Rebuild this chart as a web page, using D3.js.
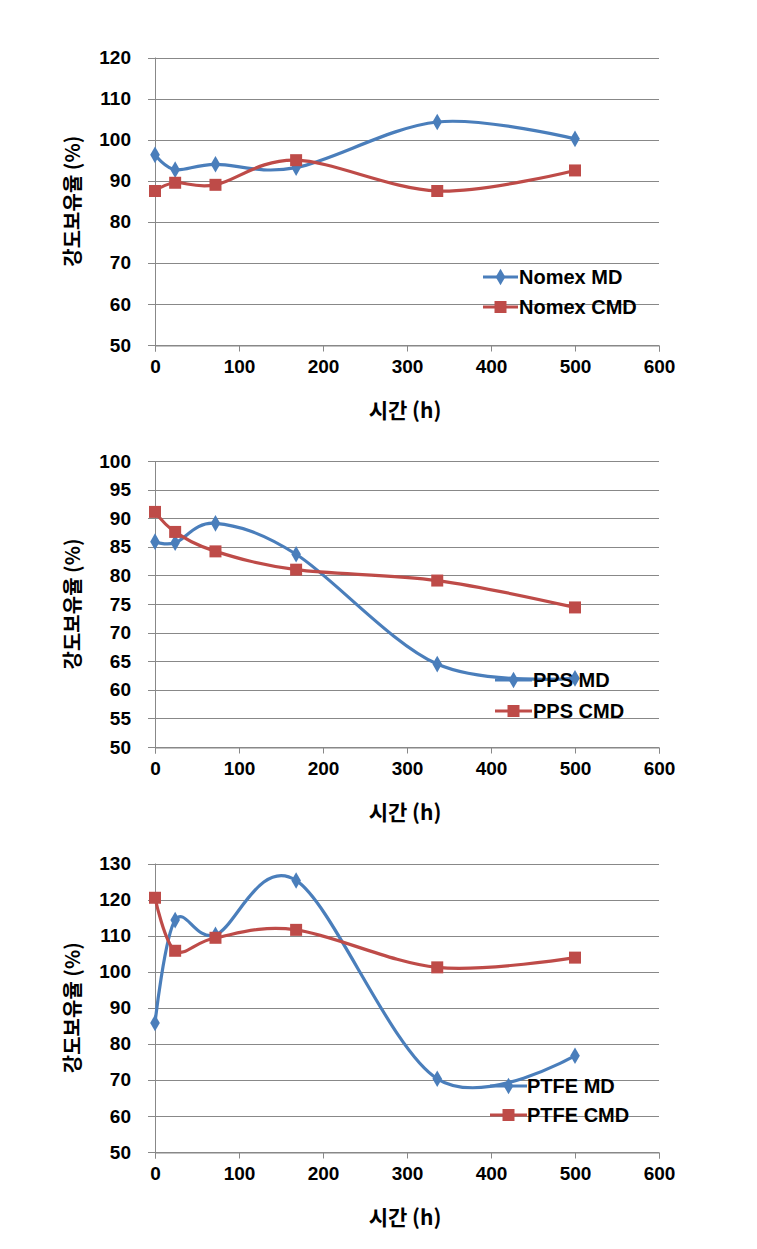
<!DOCTYPE html>
<html><head><meta charset="utf-8">
<script src="https://cdn.jsdelivr.net/npm/d3@7"></script>
<style>
html,body{margin:0;padding:0;background:#fff;}
svg{display:block;}
.tick text{font-family:"Liberation Sans",Arial,sans-serif;font-weight:bold;font-size:19px;fill:#000;}
</style></head>
<body>
<script>
// ---- data ----
const hours = [0, 24, 72, 168, 336, 500];
const xTicks = [0, 100, 200, 300, 400, 500, 600];
const nomexMD  = [96.3, 92.7, 94.0, 93.2, 104.3, 100.2];
const nomexCMD = [87.5, 89.5, 89.0, 95.0, 87.5, 92.5];
const ppsMD    = [85.9, 85.7, 89.1, 83.7, 64.5, 62.0];
const ppsCMD   = [91.1, 87.6, 84.2, 81.0, 79.1, 74.4];
const ptfeMD   = [85.8, 114.3, 110.2, 125.3, 70.3, 76.7];
const ptfeCMD  = [120.5, 105.8, 109.4, 111.6, 101.2, 103.9];
const yTicks1 = [50, 60, 70, 80, 90, 100, 110, 120];
const yTicks2 = [50, 55, 60, 65, 70, 75, 80, 85, 90, 95, 100];
const yTicks3 = [50, 60, 70, 80, 90, 100, 110, 120, 130];
const seriesNames1 = ["Nomex MD", "Nomex CMD"];
const seriesNames2 = ["PPS MD", "PPS CMD"];
const seriesNames3 = ["PTFE MD", "PTFE CMD"];
const xTitle = "시간 (h)";
const yTitle = "강도보유율 (%)";

// ---- layout ----
const W = 757, H = 1249;
const X0 = 155, X1 = 659;
const blue = "#4A7EBB", red = "#BE4B48", grid = "#888888";
const panels = [
  {top: 57.5, bottom: 345, ticks: yTicks1, md: nomexMD, cmd: nomexCMD, names: seriesNames1,
   leg: {x0: 483, x1: 518, tx: 519, y1: 277, y2: 307}},
  {top: 461, bottom: 747, ticks: yTicks2, md: ppsMD, cmd: ppsCMD, names: seriesNames2,
   leg: {x0: 495, x1: 532, tx: 533, y1: 680, y2: 711}},
  {top: 863.5, bottom: 1152, ticks: yTicks3, md: ptfeMD, cmd: ptfeCMD, names: seriesNames3,
   leg: {x0: 490, x1: 527, tx: 527, y1: 1086, y2: 1115}}
];

const svg = d3.select("body").append("svg").attr("width", W).attr("height", H);
const x = d3.scaleLinear().domain([0, 600]).range([X0, X1]);
const diamond = d3.symbol().type(d3.symbolDiamond).size(80);
const square = d3.symbol().type(d3.symbolSquare).size(144);
const curve = d3.curveCardinal.tension(0);

panels.forEach(p => {
  const y = d3.scaleLinear().domain(d3.extent(p.ticks)).range([p.bottom, p.top]);
  const g = svg.append("g");

  // gridlines (extending left as tick marks)
  g.selectAll("line.grid").data(p.ticks).join("line")
    .attr("x1", X0 - 7).attr("x2", X1)
    .attr("y1", d => Math.round(y(d)) + 0.5).attr("y2", d => Math.round(y(d)) + 0.5)
    .attr("stroke", grid).attr("stroke-width", 1);

  // y axis
  const ya = g.append("g").attr("transform", `translate(${X0 - 7},0)`)
    .call(d3.axisLeft(y).tickValues(p.ticks).tickSize(0).tickPadding(17));
  ya.select(".domain").remove();
  g.append("line").attr("x1", X0 + 0.5).attr("x2", X0 + 0.5)
    .attr("y1", p.top).attr("y2", p.bottom).attr("stroke", grid);

  // x axis
  const xa = g.append("g").attr("transform", `translate(0,${Math.round(p.bottom) + 0.5})`)
    .call(d3.axisBottom(x).tickValues(xTicks).tickSize(6).tickPadding(8));
  xa.select(".domain").attr("stroke", grid);
  xa.selectAll(".tick line").attr("stroke", grid);

  // axis titles
  g.append("text").attr("x", (X0 + X1) / 2 - 2).attr("y", p.bottom + 73)
    .attr("text-anchor", "middle")
    .style("font-family", "'Noto Sans CJK KR','Liberation Sans',sans-serif")
    .style("font-weight", "bold").style("font-size", "21px").text(xTitle);
  g.append("text")
    .attr("transform", `translate(80,${(p.top + p.bottom) / 2}) rotate(-90)`)
    .attr("text-anchor", "middle")
    .style("font-family", "'Noto Sans CJK KR','Liberation Sans',sans-serif")
    .style("font-weight", "bold").style("font-size", "20px").text(yTitle);

  // lines
  const line = d3.line().x((d, i) => x(hours[i])).y(d => y(d)).curve(curve);
  const series = [
    {vals: p.md, color: blue, sym: diamond},
    {vals: p.cmd, color: red, sym: square}
  ];
  series.forEach(s => {
    g.append("path").attr("d", line(s.vals)).attr("fill", "none")
      .attr("stroke", s.color).attr("stroke-width", 3.2);
  });
  series.forEach(s => {
    g.selectAll(null).data(s.vals).join("path")
      .attr("d", s.sym)
      .attr("transform", (d, i) => `translate(${x(hours[i])},${y(d)})`)
      .attr("fill", s.color);
  });

  // legend
  const L = p.leg;
  [[L.y1, series[0], p.names[0]], [L.y2, series[1], p.names[1]]].forEach(([ly, s, name]) => {
    g.append("line").attr("x1", L.x0).attr("x2", L.x1).attr("y1", ly).attr("y2", ly)
      .attr("stroke", s.color).attr("stroke-width", 3.2);
    g.append("path").attr("d", s.sym).attr("transform", `translate(${(L.x0 + L.x1) / 2},${ly})`)
      .attr("fill", s.color);
    g.append("text").attr("x", L.tx).attr("y", ly).attr("dy", "0.36em")
      .style("font-family", "'Liberation Sans',Arial,sans-serif")
      .style("font-weight", "bold").style("font-size", "20px").text(name);
  });
});
</script>
</body></html>
